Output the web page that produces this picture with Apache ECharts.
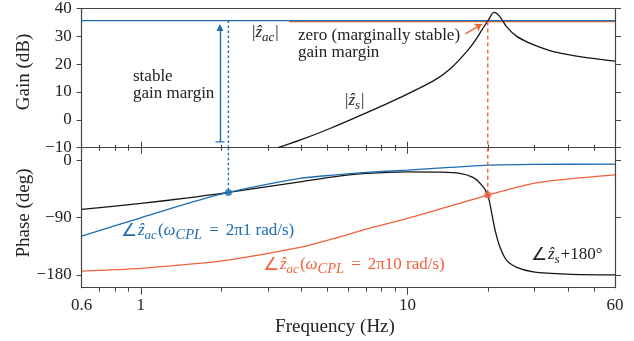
<!DOCTYPE html>
<html><head><meta charset="utf-8">
<script src="https://cdn.jsdelivr.net/npm/echarts@6/dist/echarts.min.js"></script>
<style>html,body{margin:0;padding:0;background:#fff}#c{width:634px;height:341px}</style>
</head><body><div id="c"></div>
<script>
// ---------- data ----------
const freqMin = 0.6, freqMax = 60;
const xLabelValues = [0.6, 1, 10, 60];
const xLabelTexts = ['0.6', '1', '10', '60'];
const xMajorTicks = [1, 10];
const xMinorTicks = [0.7, 0.8, 0.9, 2, 3, 4, 5, 6, 7, 8, 9, 20, 30, 40, 50];
const gainMin = -10, gainMax = 40, gainStep = 10;
const phaseMin = -200, phaseMax = 20;
const phaseTicks = [-180, -90, 0];

// |z_s| gain (dB)
const zsGainFreq = [3.27, 3.95, 5.12, 7.0, 9.37, 12.5, 14.4, 16.7, 18.2, 19.2, 20, 21.1, 22.2, 23.5, 25.7, 29.6, 34.2, 39.5, 45.6, 52.7, 60];
const zsGainDb   = [-10, -7.3, -3.1, 2.5, 8.0, 14.0, 18.2, 24.6, 29.4, 33.0, 35.5, 38.6, 37.1, 33.5, 30.0, 27.0, 24.9, 23.5, 22.5, 21.7, 21.1];
// |z_ac| gain (dB), flat
const zacBlueGainFreq = [0.6, 60];
const zacBlueGainDb   = [35.65, 35.65];
const zacOrangeGainFreq = [3.6, 60];
const zacOrangeGainDb   = [35.3, 35.3];

// phase of z_s + 180 (deg)
const zsPhaseFreq = [0.6, 1, 1.5, 2.13, 3.95, 5.27, 7.0, 10, 13.2, 15.7, 17.6, 19.0, 20, 20.7, 21.3, 22.2, 23.5, 25.7, 29.6, 39.5, 60];
const zsPhaseDeg  = [-77, -67.5, -59, -50.3, -33.6, -25.7, -20.4, -17.9, -18.4, -20.4, -26.7, -38.8, -54.5, -83.3, -109.5, -135.7, -156.6, -168, -175, -178.6, -180];
// phase of z_ac, wCPL = 2pi*1
const zacBluePhaseFreq = [0.6, 1, 1.5, 2.13, 3.95, 5.27, 7.0, 10, 15.7, 20, 29.6, 60];
const zacBluePhaseDeg  = [-118.9, -90.2, -67.5, -50.3, -28.3, -23, -18.9, -15.2, -10, -7.4, -6.3, -5.8];
// phase of z_ac, wCPL = 2pi*10
const zacOrangePhaseFreq = [0.6, 1, 1.5, 2.13, 3.95, 5.27, 7.0, 10, 15.7, 20, 29.6, 39.5, 60];
const zacOrangePhaseDeg  = [-173.9, -169.6, -163.5, -156.6, -136.7, -123, -108, -91.1, -67.5, -54.5, -36.1, -29.4, -22.6];

// crossing markers
const blueCrossFreq = 2.13, blueCrossPhase = -50.3;
const orangeCrossFreq = 20, orangeCrossPhase = -54.5;
// arrows
const marginArrowFreq = 1.98, marginArrowFrom = -7.9, marginArrowTo = 33.2;
const zeroArrowFrom = [16.5, 30.9], zeroArrowTo = [19.0, 34.4];

// ---------- style ----------
const BLUE = '#1c6cb4', ORANGE = '#f0623a', BLACK = '#141414', AX = '#444';
const serif = '"Liberation Serif","Times New Roman",serif';
const pairs = (xs, ys) => xs.map((x, i) => [x, ys[i]]);

function xa(gridIndex, position, extra) {
  return Object.assign({
    type: 'log', logBase: 10, gridIndex, position, min: freqMin, max: freqMax,
    axisLine: {show: false, onZero: false}, axisTick: {show: false}, axisLabel: {show: false},
    splitLine: {show: false}, minorTick: {show: false}, minorSplitLine: {show: false}
  }, extra);
}
const axLine = {show: true, onZero: false, lineStyle: {color: AX, width: 1.2}};
const tick = (vals, len) => ({show: true, inside: false, length: len, customValues: vals, lineStyle: {color: AX, width: 1}});

const xAxis = [
  xa(0, 'bottom', {axisLine: axLine, axisTick: tick(xMinorTicks, 3)}),
  xa(0, 'bottom', {axisTick: tick(xMajorTicks, 6)}),
  xa(0, 'top', {axisLine: axLine}),
  xa(1, 'bottom', {axisLine: axLine, axisTick: tick(xMinorTicks, 4),
    axisLabel: {show: true, customValues: xLabelValues, margin: 9, fontFamily: serif, fontSize: 17, color: '#222',
      formatter: v => { let best = 0; xLabelValues.forEach((t, i) => { if (Math.abs(Math.log(t / v)) < Math.abs(Math.log(xLabelValues[best] / v))) best = i; }); return xLabelTexts[best]; }}}),
  xa(1, 'bottom', {axisTick: tick(xMajorTicks, 7)}),
  xa(1, 'top', {axisTick: tick(xMinorTicks, 3)}),
  xa(1, 'top', {axisTick: tick(xMajorTicks, 6)})
];

const yAxis = [
  {type: 'value', gridIndex: 0, position: 'left', min: gainMin, max: gainMax, interval: gainStep,
    axisLine: axLine, axisTick: {show: true, inside: false, length: 5, lineStyle: {color: AX}},
    axisLabel: {margin: 10, fontFamily: serif, fontSize: 17, color: '#222', formatter: v => String(v).replace('-', '\u2212')},
    splitLine: {show: false}},
  {type: 'value', gridIndex: 0, position: 'right', min: gainMin, max: gainMax, interval: gainStep,
    axisLine: axLine, axisTick: {show: true, inside: false, length: 6, lineStyle: {color: AX}},
    axisLabel: {show: false}, splitLine: {show: false}},
  {type: 'value', gridIndex: 1, position: 'left', min: phaseMin, max: phaseMax,
    axisLine: axLine, axisTick: tick(phaseTicks, 5),
    axisLabel: {customValues: phaseTicks, margin: 10, fontFamily: serif, fontSize: 17, color: '#222', formatter: v => String(v).replace('-', '\u2212')},
    splitLine: {show: false}},
  {type: 'value', gridIndex: 1, position: 'right', min: phaseMin, max: phaseMax,
    axisLine: axLine, axisTick: tick(phaseTicks, 6),
    axisLabel: {show: false}, splitLine: {show: false}}
];

function line(xi, yi, data, color, width, extra) {
  return Object.assign({type: 'line', xAxisIndex: xi, yAxisIndex: yi, data, showSymbol: false, symbol: 'none',
    smooth: 0.3, lineStyle: {color, width}, itemStyle: {color}, silent: true, z: 2}, extra || {});
}
function dashed(xi, yi, data, color, dash) {
  return {type: 'line', xAxisIndex: xi, yAxisIndex: yi, data, symbol: 'none', silent: true, z: 3,
    lineStyle: {color, width: 1.4, type: dash}};
}

const series = [
  line(0, 0, pairs(zacOrangeGainFreq, zacOrangeGainDb), ORANGE, 1.2, {smooth: false}),
  line(0, 0, pairs(zacBlueGainFreq, zacBlueGainDb), BLUE, 1.2, {smooth: false}),
  line(0, 0, pairs(zsGainFreq, zsGainDb), BLACK, 1.3),
  dashed(0, 0, [[blueCrossFreq, zacBlueGainDb[0]], [blueCrossFreq, gainMin]], BLUE, [2.5, 2.5]),
  dashed(0, 0, [[orangeCrossFreq, zacOrangeGainDb[0]], [orangeCrossFreq, gainMin]], ORANGE, [4, 3]),
  {type: 'lines', coordinateSystem: 'cartesian2d', xAxisIndex: 0, yAxisIndex: 0, silent: true, z: 4,
    symbol: ['none', 'triangle'], symbolSize: 7,
    lineStyle: {color: BLUE, width: 1.4, opacity: 1, curveness: 0},
    data: [{coords: [[marginArrowFreq, marginArrowFrom], [marginArrowFreq, marginArrowTo]]}]},
  {type: 'scatter', xAxisIndex: 0, yAxisIndex: 0, silent: true, z: 4, symbol: 'rect', symbolSize: [9, 1.5],
    itemStyle: {color: BLUE}, data: [[marginArrowFreq, marginArrowFrom]]},
  {type: 'lines', coordinateSystem: 'cartesian2d', xAxisIndex: 0, yAxisIndex: 0, silent: true, z: 4,
    symbol: ['none', 'arrow'], symbolSize: 7,
    lineStyle: {color: ORANGE, width: 1.4, opacity: 1, curveness: 0},
    data: [{coords: [zeroArrowFrom, zeroArrowTo]}]},

  line(3, 2, pairs(zacOrangePhaseFreq, zacOrangePhaseDeg), ORANGE, 1.3),
  line(3, 2, pairs(zsPhaseFreq, zsPhaseDeg), BLACK, 1.3),
  line(3, 2, pairs(zacBluePhaseFreq, zacBluePhaseDeg), BLUE, 1.3),
  dashed(3, 2, [[blueCrossFreq, phaseMax], [blueCrossFreq, blueCrossPhase]], BLUE, [2.5, 2.5]),
  dashed(3, 2, [[orangeCrossFreq, phaseMax], [orangeCrossFreq, orangeCrossPhase]], ORANGE, [4, 3]),
  {type: 'scatter', xAxisIndex: 3, yAxisIndex: 2, silent: true, z: 5, symbolSize: 7,
    itemStyle: {color: BLUE}, data: [[blueCrossFreq, blueCrossPhase]]},
  {type: 'scatter', xAxisIndex: 3, yAxisIndex: 2, silent: true, z: 5, symbolSize: 7,
    itemStyle: {color: ORANGE}, data: [[orangeCrossFreq, orangeCrossPhase]]}
];

function rich(color) {
  return {
    n: {fontFamily: serif, fontSize: 17, color, lineHeight: 20},
    a: {fontFamily: serif, fontSize: 18, color, lineHeight: 20, padding: [0, 1, 0, 0]},
    e: {fontFamily: serif, fontSize: 17, color, lineHeight: 20, padding: [0, 7, 0, 7]},
    i: {fontFamily: serif, fontSize: 17, fontStyle: 'italic', color, lineHeight: 20},
    s: {fontFamily: serif, fontSize: 13, fontStyle: 'italic', color, lineHeight: 20, padding: [9, 1, 0, 0]},
    c: {fontFamily: serif, fontSize: 14.5, fontStyle: 'italic', color, lineHeight: 20, padding: [9, 0, 0, 0]}
  };
}
function txt(x, y, text, color, extra) {
  return Object.assign({type: 'text', x, y, silent: true, z: 10,
    style: {text, rich: rich(color), align: 'left', verticalAlign: 'middle', fill: color, font: '17px ' + serif}}, extra || {});
}
function plain(x, y, text, size, opts) {
  return Object.assign({type: 'text', x, y, silent: true, z: 10,
    style: {text, fill: '#222', font: size + 'px ' + serif, align: 'center', verticalAlign: 'middle', lineHeight: 17.5}}, opts || {});
}

const graphic = [
  plain(24, 72, 'Gain (dB)', 19, {rotation: Math.PI / 2}),
  plain(24, 213, 'Phase (deg)', 19, {rotation: Math.PI / 2}),
  plain(335, 327, 'Frequency (Hz)', 19),
  {type: 'text', x: 133, y: 85, silent: true, z: 10,
    style: {text: 'stable\ngain margin', fill: '#222', font: '17px ' + serif, align: 'left', verticalAlign: 'middle', lineHeight: 17.5}},
  {type: 'text', x: 298, y: 44, silent: true, z: 10,
    style: {text: 'zero (marginally stable)\ngain margin', fill: '#222', font: '17px ' + serif, align: 'left', verticalAlign: 'middle', lineHeight: 17.5}},
  txt(252, 33, '{n||}{i|\u1E91}{s|ac}{n||}', '#222'),
  txt(345, 101, '{n||}{i|\u1E91}{s|s}{n||}', '#222'),
  txt(121, 231, '{a|\u2220}{i|\u1E91}{s|ac}{n|(}{i|\u03C9}{c|CPL}{e|=}{n|2\u03C01 rad/s)}', BLUE),
  txt(263, 265, '{a|\u2220}{i|\u1E91}{s|ac}{n|(}{i|\u03C9}{c|CPL}{e|=}{n|2\u03C010 rad/s)}', ORANGE),
  txt(531, 255, '{a|\u2220}{i|\u1E91}{s|s}{n|+180\u00B0}', '#222')
];

const chart = echarts.init(document.getElementById('c'), null, {renderer: 'canvas'});
chart.setOption({animation: false, backgroundColor: '#fff',
  grid: [{left: 81.7, right: 19, top: 6.7, height: 141}, {left: 81.7, right: 19, top: 147.7, height: 140}],
  xAxis, yAxis, series, graphic});
</script></body></html>
